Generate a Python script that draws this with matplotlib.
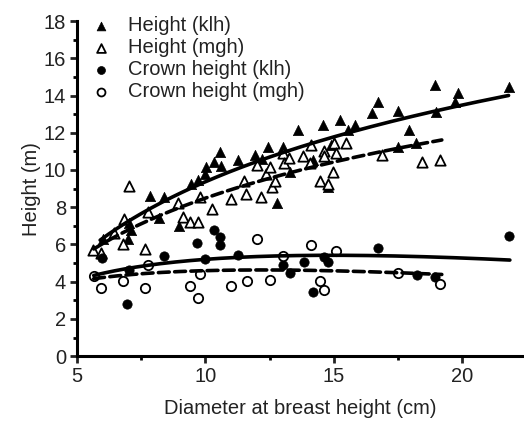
import numpy as np
import matplotlib
matplotlib.use("Agg")
import matplotlib.pyplot as plt
from matplotlib.ticker import MultipleLocator

plt.rcParams['font.family'] = ['Liberation Sans', 'DejaVu Sans']

# Height (klh) - filled triangles
h_klh_x = [6.00, 6.99, 7.03, 7.09, 7.83, 8.38, 8.18, 8.96, 9.45, 9.70, 9.98, 10.01, 10.32, 10.55,
           10.62, 11.26, 11.93, 12.22, 12.43, 13.00, 13.31, 13.60, 14.18, 14.57, 14.76, 14.89,
           15.24, 15.54, 15.83, 16.50, 16.70, 17.48, 17.48, 17.94, 18.20, 18.95, 18.96, 19.73,
           19.85, 21.82, 12.77]
h_klh_y = [6.32, 6.32, 7.13, 6.77, 8.60, 8.53, 7.42, 7.01, 9.26, 9.46, 9.81, 10.17, 10.44, 10.99,
           10.24, 10.53, 10.83, 10.59, 11.25, 11.23, 9.90, 12.17, 10.52, 12.44, 9.10, 11.34,
           12.67, 12.14, 12.39, 13.04, 13.65, 13.15, 11.23, 12.14, 11.45, 14.56, 13.13, 13.65,
           14.15, 14.44, 8.22]

# Height (mgh) - open triangles
h_mgh_x = [5.63, 5.95, 6.43, 6.79, 6.83, 7.04, 7.65, 7.77, 8.93, 9.14, 9.38, 9.71, 9.80, 10.25,
           11.01, 11.59, 12.15, 12.59, 11.49, 12.69, 12.37, 12.50, 12.02, 13.00, 13.06, 13.27,
           13.79, 14.05, 14.11, 14.63, 14.63, 15.02, 15.09, 15.49, 14.98, 14.44, 14.76, 16.88,
           18.44, 19.14]
h_mgh_y = [5.72, 5.52, 6.63, 6.03, 7.37, 9.12, 5.74, 7.75, 8.24, 7.50, 7.22, 7.22, 8.53, 7.92,
           8.42, 8.70, 8.54, 9.11, 9.39, 9.41, 9.78, 10.17, 10.26, 10.89, 10.40, 10.64,
           10.73, 10.39, 11.34, 11.04, 10.73, 11.46, 10.91, 11.43, 9.90, 9.43, 9.27, 10.83,
           10.44, 10.53]

# Crown height (klh) - filled circles
c_klh_x = [5.97, 6.95, 7.03, 8.38, 9.67, 10.32, 10.58, 10.58, 9.98, 11.25, 13.03, 13.28, 13.82,
           14.63, 14.76, 14.18, 16.70, 18.22, 18.94, 21.82]
c_klh_y = [5.25, 2.78, 4.62, 5.39, 6.09, 6.77, 6.38, 5.96, 5.20, 5.43, 4.89, 4.48, 5.07,
           5.30, 5.07, 3.42, 5.79, 4.35, 4.26, 6.47]

# Crown height (mgh) - open circles
c_mgh_x = [5.66, 5.94, 6.79, 7.65, 7.76, 9.41, 9.70, 9.80, 10.99, 11.60, 12.00, 12.50, 13.00,
           14.09, 15.08, 14.44, 14.63, 17.48, 19.14]
c_mgh_y = [4.30, 3.67, 4.03, 3.67, 4.89, 3.76, 3.15, 4.39, 3.76, 4.03, 6.27, 4.07, 5.39,
           5.96, 5.66, 4.05, 3.58, 4.48, 3.87]

# Fitted curves: y = a + b*ln(x) + c*x, with x range
fit_h_klh = dict(a=-4.32, b=5.945, c=0.0, lo=5.9, hi=21.8)
fit_h_mgh = dict(a=-2.53, b=4.786, c=0.0, lo=5.65, hi=19.2)
fit_c_klh = dict(a=0.147, b=3.096, c=-0.2075, lo=5.65, hi=21.85)
fit_c_mgh = dict(a=1.607, b=2.014, c=-0.1651, lo=5.65, hi=19.2)

x_ticks = [5, 10, 15, 20]
y_ticks = [0, 2, 4, 6, 8, 10, 12, 14, 16, 18]

fig = plt.figure(figsize=(5.24, 4.21), dpi=100)
ax = fig.add_axes([0.147, 0.154, 0.853, 0.796])

ms_tri = 55
ms_cir = 45
ax.scatter(h_klh_x, h_klh_y, marker='^', s=ms_tri, c='black', edgecolors='black', linewidths=0.5,
           label='Height (klh)', zorder=3)
ax.scatter(h_mgh_x, h_mgh_y, marker='^', s=ms_tri, facecolors='white', edgecolors='black',
           linewidths=1.3, label='Height (mgh)', zorder=3)
ax.scatter(c_klh_x, c_klh_y, marker='o', s=ms_cir, c='black', edgecolors='black', linewidths=0.5,
           label='Crown height (klh)', zorder=3)
ax.scatter(c_mgh_x, c_mgh_y, marker='o', s=ms_cir, facecolors='white', edgecolors='black',
           linewidths=1.3, label='Crown height (mgh)', zorder=3)

def draw_fit(f, ls):
    xx = np.linspace(f['lo'], f['hi'], 200)
    yy = f['a'] + f['b'] * np.log(xx) + f['c'] * xx
    ax.plot(xx, yy, color='black', lw=2.6, ls=ls, zorder=4, dash_capstyle='round',
            solid_capstyle='round')

draw_fit(fit_h_klh, '-')
draw_fit(fit_h_mgh, (0, (3, 1.5)))
draw_fit(fit_c_klh, '-')
draw_fit(fit_c_mgh, (0, (3, 1.5)))

fs = 14.5
ax.set_xlim(5, 22.4)
ax.set_ylim(0, 18)
ax.set_xticks(x_ticks)
ax.set_yticks(y_ticks)
ax.xaxis.set_minor_locator(MultipleLocator(2.5))
ax.yaxis.set_minor_locator(MultipleLocator(1))
for s in ['top', 'right']:
    ax.spines[s].set_visible(False)
for s in ['left', 'bottom']:
    ax.spines[s].set_linewidth(2.2)
ax.tick_params(which='major', direction='out', length=5, width=2, labelsize=fs, colors='#222222',
               pad=3)
ax.tick_params(which='minor', direction='out', length=3, width=2)
ax.set_xlabel('Diameter at breast height (cm)', fontsize=fs, labelpad=9, color='#222222')
ax.set_ylabel('Height (m)', fontsize=fs, labelpad=2, color='#222222')

leg = ax.legend(loc='upper left', frameon=False, fontsize=fs, handletextpad=0.7,
                labelspacing=0.15, borderaxespad=0.1, handlelength=1.2, markerscale=0.85,
                bbox_to_anchor=(0.005, 1.045))
for t in leg.get_texts():
    t.set_color('#222222')
fig.savefig('out.png', dpi=100)
